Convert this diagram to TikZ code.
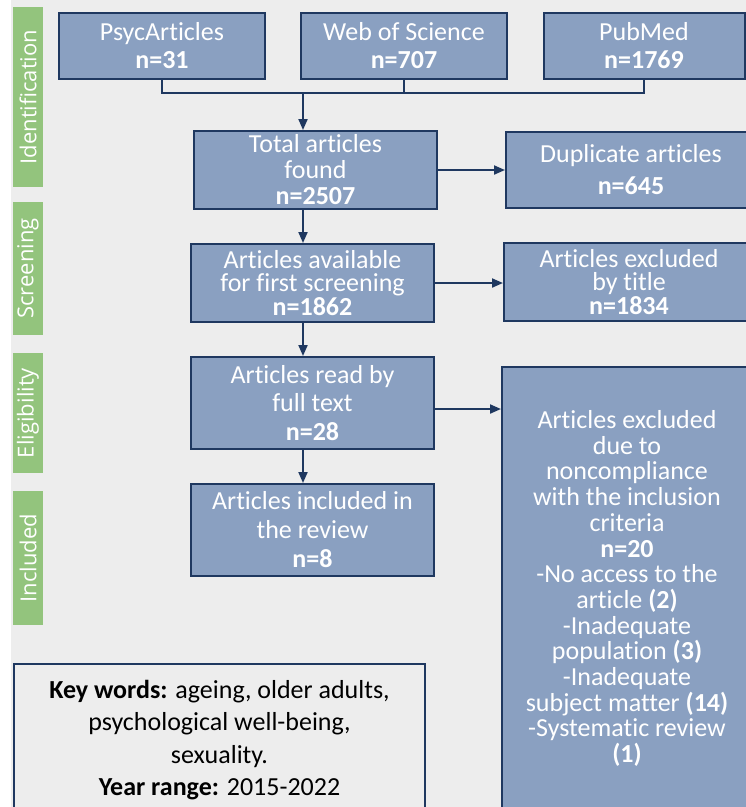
\documentclass[tikz,border=0pt]{standalone}
\usepackage{fontspec}
\setmainfont{Carlito}[Ligatures=NoCommon]
\newfontfamily\stagefont{Open Sans}
\usetikzlibrary{arrows.meta, positioning}

\definecolor{boxblue}{RGB}{138,160,193}
\definecolor{boxline}{RGB}{31,56,96}
\definecolor{stagegreen}{RGB}{147,196,125}
\definecolor{backgray}{RGB}{237,237,237}

\newcommand{\flowfont}[1]{\fontsize{26}{#1}\selectfont}

\begin{document}
\begin{tikzpicture}[x=1pt, y=-1pt, >={Triangle[length=11pt, width=9pt]},
    flow/.style={draw=boxline, line width=2pt, fill=boxblue, text=white,
      align=center, inner sep=0pt, minimum width=243pt},
    stage/.style={fill=stagegreen, text=white, rotate=90, inner sep=0pt,
      minimum height=30pt, font=\stagefont\fontsize{22}{22}\selectfont},
    link/.style={draw=boxline, line width=2pt}]
  \useasboundingbox (0,0) rectangle (746,807);
  \clip (0,0) rectangle (746,807);
  \fill[white] (0,0) rectangle (746,807);
  \fill[backgray] (11,0) rectangle (746,807);

  % stages on the left
  \node[stage, minimum width=180pt] (idlabel) at (28,97) {Identification};
  \node[stage, minimum width=133pt] (scrlabel) at (28,268.5) {Screening};
  \node[stage, minimum width=120pt] (eliglabel) at (28,413) {Eligibility};
  \node[stage, minimum width=134pt] (inclabel) at (28,558) {Included};

  % databases
  \node[flow, minimum width=206pt, minimum height=66pt, font=\flowfont{28}] (psyc) at (162,46)
    {PsycArticles\\\textbf{n=31}};
  \node[flow, minimum width=206pt, minimum height=66pt, font=\flowfont{28}] (wos) at (404,46)
    {Web of Science\\\textbf{n=707}};
  \node[flow, minimum width=201pt, minimum height=66pt, font=\flowfont{28}] (pub) at (644,46)
    {PubMed\\\textbf{n=1769}};

  % main column
  \node[flow, minimum height=78pt, font=\flowfont{26}] (total) at (315.5,170)
    {Total articles\\found\\\textbf{n=2507}};
  \node[flow, minimum height=78pt, font=\flowfont{23.5}] (avail) at (312.5,283)
    {Articles available\\for first screening\\\textbf{n=1862}};
  \node[flow, minimum height=92pt, font=\flowfont{28.5}] (read) at (312.5,403)
    {Articles read by\\full text\\\textbf{n=28}};
  \node[flow, minimum height=92pt, font=\flowfont{29}] (incl) at (312.5,530)
    {Articles included in\\the review\\\textbf{n=8}};

  % excluded
  \node[flow, minimum width=250pt, minimum height=76pt, font=\flowfont{26}] (dup) at (631,170)
    {Duplicate articles\\[6pt]\textbf{n=645}};
  \node[flow, minimum width=250pt, minimum height=78pt, font=\flowfont{23.5}] (excl) at (629,282)
    {Articles excluded\\by title\\\textbf{n=1834}};
  \node[flow, minimum width=250pt, minimum height=443pt, font=\flowfont{25.7}] (big) at (627,588.5)
    {Articles excluded\\due to\\noncompliance\\with the inclusion\\criteria\\\textbf{n=20}\\
     -No access to the\\article \textbf{(2)}\\-Inadequate\\population \textbf{(3)}\\
     -Inadequate\\subject matter \textbf{(14)}\\-Systematic review\\\textbf{(1)}};

  % search terms
  \node[draw=boxline, line width=2pt, align=center, inner sep=0pt, minimum width=411pt,
    minimum height=152pt, font=\flowfont{32.5}] (keys) at (219.5,740)
    {\textbf{Key words:} ageing, older adults,\\psychological well-being,\\sexuality.\\
     \textbf{Year range:} 2015-2022};

  \coordinate (join) at (303,93);
  \draw[link] (psyc.south) |- (join) -| (pub.south);
  \draw[link] (wos.south) -- (wos.south |- join);
  \draw[link, ->] (join) -- (join |- total.north);
  \draw[link, ->] (total.south -| join) -- (avail.north -| join);
  \draw[link, ->] (avail.south -| join) -- (read.north -| join);
  \draw[link, ->] (read.south -| join) -- (incl.north -| join);
  \draw[link, ->] (total) -- (dup);
  \draw[link, ->] (avail.east) -- (avail.east -| excl.west);
  \draw[link, ->] ([yshift=-6pt]read.east) -- ([yshift=-6pt]read.east -| big.west);
\end{tikzpicture}
\end{document}
